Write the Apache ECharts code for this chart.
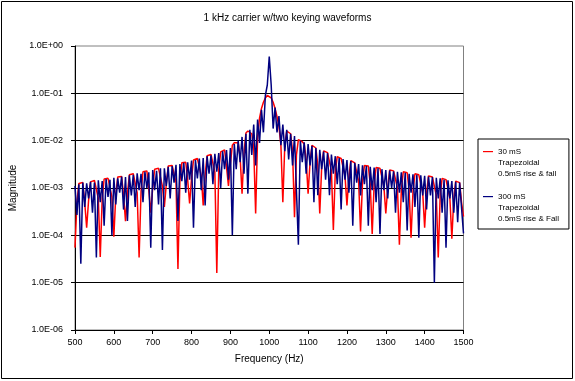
<!DOCTYPE html>
<html>
<head>
<meta charset="utf-8">
<script src="https://cdn.jsdelivr.net/npm/echarts@6/dist/echarts.min.js"></script>
<style>
html,body{margin:0;padding:0;background:#fff;}
#c{width:575px;height:381px;}
</style>
</head>
<body>
<div id="c"></div>
<script>
// Frequency grid (Hz): 500..1500 sampled every 5 Hz
var freqStart = 500, freqStep = 5;

// 30 mS trapezoidal keying (red), 500..1500 Hz
var red30 = [
  5.5e-5, 5e-4, 1.25e-3, 1.35e-3, 1.3e-3, 5e-4, 1.45e-4, 5.5e-4, 1.35e-3, 1.45e-3,
  1.45e-3, 1.4e-3, 6e-4, 3.5e-5, 6e-4, 1.55e-3, 1.6e-3, 1.6e-3, 1.5e-3, 6.5e-4,
  9.3e-5, 7e-4, 1.7e-3, 1.8e-3, 1.75e-3, 7e-4, 2.0e-4, 7.5e-4, 1.9e-3, 2.0e-3,
  2.0e-3, 1.9e-3, 8e-4, 3.4e-5, 8.5e-4, 2.2e-3, 2.3e-3, 2.3e-3, 9e-4, 3.0e-4,
  1.0e-3, 2.5e-3, 2.6e-3, 2.6e-3, 2.5e-3, 1.1e-3, 4e-4, 1.2e-3, 2.9e-3, 3.0e-3,
  3.0e-3, 2.9e-3, 1.3e-3, 1.95e-5, 1.4e-3, 3.4e-3, 3.5e-3, 3.5e-3, 1.5e-3, 4.7e-4,
  1.6e-3, 3.9e-3, 4.1e-3, 4.2e-3, 4.1e-3, 1.8e-3, 4.3e-4, 1.9e-3, 4.8e-3, 5.0e-3,
  5.1e-3, 5.0e-3, 2.2e-3, 1.6e-5, 2.4e-3, 5.8e-3, 6.2e-3, 6.4e-3, 2.8e-3, 1.1e-3,
  3.2e-3, 8e-3, 9e-3, 9.5e-3, 9e-3, 4.5e-3, 7.6e-4, 5.5e-3, 1.45e-2, 1.6e-2,
  1.6e-2, 1.4e-2, 7e-3, 2.9e-4, 1.2e-2, 3.0e-2, 4.8e-2, 6.5e-2, 8e-2, 9e-2,
  9e-2, 8e-2, 6.5e-2, 4.8e-2, 3.2e-2, 2e-2, 8e-3, 5e-4, 8e-3, 1.6e-2,
  1.55e-2, 1.4e-2, 6e-3, 2.4e-4, 5e-3, 1.05e-2, 1.05e-2, 9.5e-3, 8.5e-3, 4e-3,
  7.6e-4, 3.5e-3, 8e-3, 7.6e-3, 7.0e-3, 3e-3, 2.9e-4, 2.8e-3, 6.1e-3, 5.9e-3,
  5.6e-3, 5.2e-3, 2.3e-3, 1.3e-4, 2.2e-3, 4.6e-3, 4.5e-3, 4.2e-3, 4.0e-3, 1.8e-3,
  4.3e-4, 1.7e-3, 3.8e-3, 3.6e-3, 3.4e-3, 3.3e-3, 1.4e-3, 1.2e-4, 1.3e-3, 3.0e-3,
  3.0e-3, 2.9e-3, 1.2e-3, 1.07e-4, 1.2e-3, 2.7e-3, 2.7e-3, 2.6e-3, 2.5e-3, 1.1e-3,
  2.9e-4, 1.0e-3, 2.4e-3, 2.35e-3, 2.3e-3, 2.2e-3, 1.0e-3, 6.3e-5, 9e-4, 2.2e-3,
  2.15e-3, 2.1e-3, 9e-4, 8.9e-5, 8.5e-4, 2.0e-3, 1.95e-3, 1.9e-3, 1.85e-3, 8e-4,
  1.45e-4, 8e-4, 1.8e-3, 1.75e-3, 1.7e-3, 1.65e-3, 7e-4, 3.4e-5, 7e-4, 1.6e-3,
  1.55e-3, 1.5e-3, 1.45e-3, 6e-4, 8.5e-5, 6e-4, 1.4e-3, 1.35e-3, 1.3e-3, 5e-4,
  2.5e-4
];

// 300 mS trapezoidal keying (blue), 500..1500 Hz
var blue300 = [
  1.1e-3, 2.7e-4, 1.2e-3, 2.5e-5, 1.3e-3, 4e-4, 1.25e-3, 6e-4, 1.35e-3, 3e-4,
  1.3e-3, 3.4e-5, 1.45e-3, 5e-4, 1.4e-3, 1.6e-4, 1.55e-3, 6.5e-4, 1.5e-3, 1.0e-4,
  1.65e-3, 4.5e-4, 1.6e-3, 8e-4, 1.75e-3, 3.5e-4, 1.7e-3, 2.0e-4, 1.85e-3, 7e-4,
  1.9e-3, 4e-4, 2.05e-3, 9e-4, 2.0e-3, 5e-4, 2.2e-3, 1.0e-3, 2.15e-3, 5.5e-5,
  2.4e-3, 9e-4, 2.3e-3, 4.5e-4, 2.6e-3, 4.9e-5, 2.6e-3, 1.1e-3, 2.8e-3, 6e-4,
  2.9e-3, 1.3e-3, 3.1e-3, 2e-4, 3.2e-3, 1.4e-3, 3.4e-3, 8e-4, 3.5e-3, 1.5e-3,
  3.8e-3, 1.45e-4, 3.9e-3, 1.6e-3, 4.2e-3, 9e-4, 4.3e-3, 4.3e-4, 4.7e-3, 2.0e-3,
  4.9e-3, 1.2e-3, 5.3e-3, 2.2e-3, 5.5e-3, 1.0e-3, 6.0e-3, 2.5e-3, 6.3e-3, 1.5e-3,
  7.0e-3, 1.0e-4, 8.5e-3, 2.5e-3, 1.0e-2, 3.5e-3, 1.2e-2, 2.0e-3, 1.4e-2, 7.6e-4,
  1.7e-2, 5e-3, 2.2e-2, 3e-3, 2.8e-2, 9e-3, 4.5e-2, 1.5e-2, 9e-2, 0.15,
  0.6, 0.15, 1.8e-2, 5e-2, 1.5e-2, 3.3e-2, 8e-3, 2.2e-2, 6e-3, 1.7e-2,
  4e-3, 1.4e-2, 3e-3, 1.25e-2, 1.15e-2, 6.3e-5, 1.0e-2, 3.5e-3, 9.2e-3, 2.0e-3,
  8.5e-3, 3e-3, 7.8e-3, 5e-4, 7.0e-3, 7e-4, 6.4e-3, 2.5e-3, 5.9e-3, 1.5e-3,
  5.5e-3, 7e-4, 5.1e-3, 2.0e-3, 4.7e-3, 1.2e-3, 4.3e-3, 3.5e-4, 4.1e-3, 1.5e-3,
  3.9e-3, 8e-4, 3.7e-3, 1.6e-4, 3.4e-3, 1.3e-3, 3.2e-3, 7e-4, 3.0e-3, 1.2e-3,
  2.9e-3, 1.6e-4, 2.8e-3, 9e-4, 2.7e-3, 5e-4, 2.6e-3, 1.07e-4, 2.5e-3, 9e-4,
  2.4e-3, 6e-4, 2.35e-3, 1.0e-3, 2.25e-3, 3e-4, 2.2e-3, 8e-4, 2.15e-3, 5e-4,
  2.1e-3, 1.26e-4, 2.0e-3, 8e-4, 1.95e-3, 4e-4, 1.9e-3, 8.9e-5, 1.85e-3, 7e-4,
  1.8e-3, 3.5e-4, 1.75e-3, 7e-4, 1.7e-3, 1.0e-5, 1.65e-3, 6e-4, 1.6e-3, 3e-4,
  1.5e-3, 5.5e-5, 1.45e-3, 6e-4, 1.4e-3, 3e-4, 1.35e-3, 1.9e-4, 1.3e-3, 1.2e-3,
  1.1e-4
];

var seriesNames = ['30 mS\nTrapezoidal\n0.5mS rise & fall', '300 mS\nTrapezoidal\n0.5mS rise & Fall'];
var seriesColors = ['#ff0000', '#000080'];
var yTickLabels = ['1.0E-06', '1.0E-05', '1.0E-04', '1.0E-03', '1.0E-02', '1.0E-01', '1.0E+00'];
var xTicks = [500, 600, 700, 800, 900, 1000, 1100, 1200, 1300, 1400, 1500];

function pairs(vals) {
  var out = [];
  for (var i = 0; i < vals.length; i++) out.push([freqStart + i * freqStep, vals[i]]);
  return out;
}

var FONT = "'Liberation Sans', Arial, sans-serif";
var chart = echarts.init(document.getElementById('c'), null, {renderer: 'canvas'});
chart.setOption({
  animation: false,
  backgroundColor: '#ffffff',
  title: {
    text: '1 kHz carrier w/two keying waveforms',
    left: 'center', top: 13, padding: 0,
    textStyle: {fontFamily: FONT, fontSize: 10, fontWeight: 'normal', color: '#000'}
  },
  legend: {
    orient: 'vertical',
    left: 478, top: 139,
    padding: [7, 10, 5, 5],
    itemGap: 12,
    itemWidth: 10, itemHeight: 33,
    icon: 'path://M0,0L0,0M0,33L0,33M0,5L10,5L10,6.2L0,6.2Z',
    borderColor: '#000', borderWidth: 1, borderRadius: 0,
    backgroundColor: '#fff',
    itemStyle: {borderWidth: 0},
    textStyle: {fontFamily: FONT, fontSize: 8, lineHeight: 11, color: '#000'},
    data: seriesNames
  },
  grid: {
    left: 75, right: 111.5, top: 46, bottom: 51,
    show: true, borderColor: '#808080', borderWidth: 1, backgroundColor: '#fff'
  },
  xAxis: {
    type: 'value', min: xTicks[0], max: xTicks[xTicks.length - 1], interval: 100,
    name: 'Frequency (Hz)', nameLocation: 'middle', nameGap: 24,
    nameTextStyle: {fontFamily: FONT, fontSize: 10, color: '#000'},
    axisLine: {show: true, lineStyle: {color: '#000', width: 1}},
    axisTick: {show: true, inside: false, length: 4, lineStyle: {color: '#000'}},
    axisLabel: {fontFamily: FONT, fontSize: 9, color: '#000', margin: 8,
      formatter: function (v) { return String(v); }},
    splitLine: {show: false}
  },
  yAxis: {
    type: 'log', logBase: 10, min: 1e-6, max: 1, splitNumber: 6,
    name: 'Magnitude', nameLocation: 'middle', nameGap: 47, nameRotate: 90,
    nameTextStyle: {fontFamily: FONT, fontSize: 10, color: '#000'},
    axisLine: {show: true, lineStyle: {color: '#000', width: 1}},
    axisTick: {show: true, inside: false, length: 4, lineStyle: {color: '#000'}},
    axisLabel: {
      fontFamily: FONT, fontSize: 9, color: '#000', margin: 12,
      formatter: function (v) {
        var e = Math.round(Math.log(v) / Math.LN10);
        return yTickLabels[e + 6] || '';
      }
    },
    splitLine: {show: true, showMinLine: false, showMaxLine: false, lineStyle: {color: '#000', width: 1}}
  },
  series: [
    {
      name: seriesNames[0], type: 'line', data: pairs(red30),
      symbol: 'none', showSymbol: false,
      lineStyle: {color: seriesColors[0], width: 1.5},
      itemStyle: {color: seriesColors[0]},
      z: 2
    },
    {
      name: seriesNames[1], type: 'line', data: pairs(blue300),
      symbol: 'none', showSymbol: false,
      lineStyle: {color: seriesColors[1], width: 1.5},
      itemStyle: {color: seriesColors[1]},
      z: 3
    }
  ],
  graphic: [{
    type: 'rect', silent: true, z: 100,
    shape: {x: 1.5, y: 1.5, width: 571, height: 377},
    style: {fill: 'none', stroke: '#000', lineWidth: 1}
  }]
});
</script>
</body>
</html>
